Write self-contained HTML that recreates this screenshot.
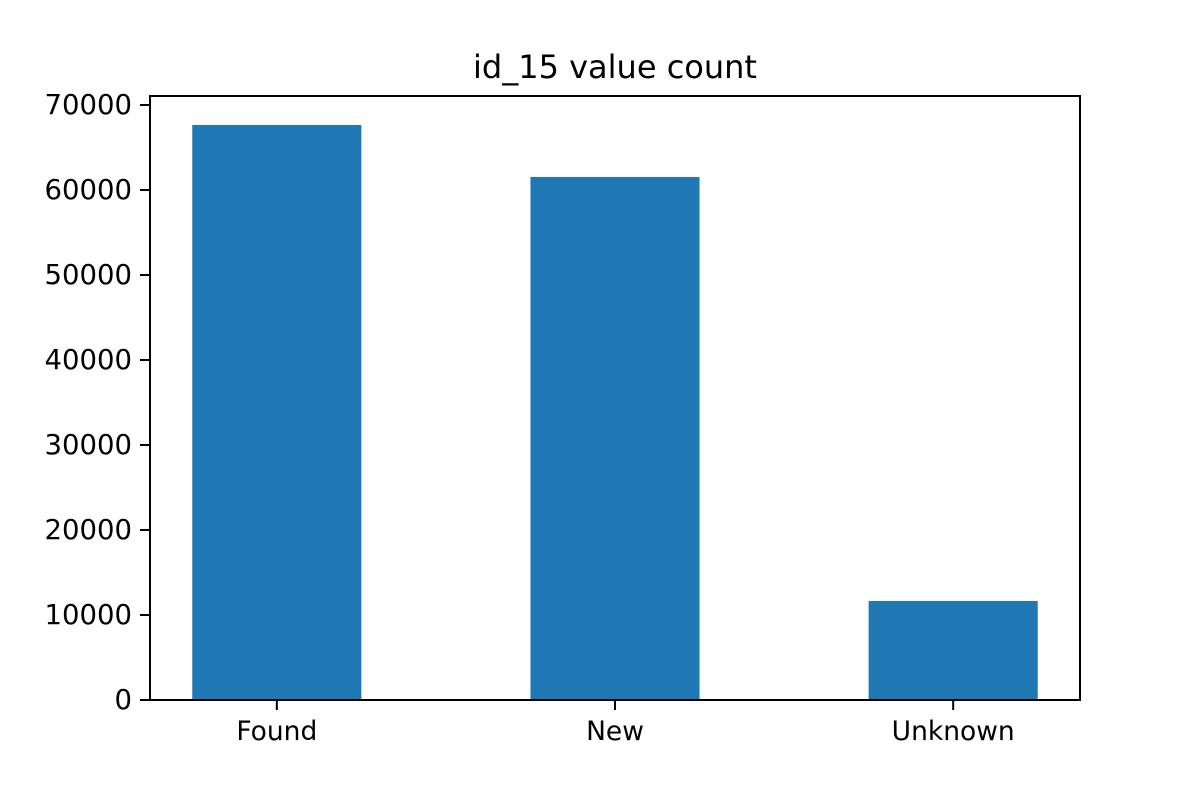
<!DOCTYPE html>
<html><head><meta charset="utf-8"><style>
html,body{margin:0;padding:0;background:#fff;}
svg text{font-family:"DejaVu Sans","Liberation Sans",sans-serif;fill:#000;}
</style></head><body>
<svg width="1200" height="800" xmlns="http://www.w3.org/2000/svg">
<rect width="1200" height="800" fill="#fff"/>
<text x="615" y="78" font-size="32" text-anchor="middle">id_15 value count</text>
<g id="bars"></g>
<g id="yticks"></g>
<g id="xticks"></g>
<rect x="150" y="96" width="930" height="604" fill="none" stroke="#000" stroke-width="2"/>
</svg>
<script>
const categories = ["Found", "New", "Unknown"];
const counts = [67650, 61530, 11650];
const yTicks = [0, 10000, 20000, 30000, 40000, 50000, 60000, 70000];
const L=150,R=1080,T=96,B=700,xmin=-0.375,xmax=2.375,ymax=71060;
const NS="http://www.w3.org/2000/svg";
const sx=v=>L+(v-xmin)/(xmax-xmin)*(R-L);
const sy=v=>B-v/ymax*(B-T);
const mk=(t,a,p)=>{const e=document.createElementNS(NS,t);for(const k in a)e.setAttribute(k,a[k]);p.appendChild(e);return e;};
const bars=document.getElementById('bars'),yt=document.getElementById('yticks'),xt=document.getElementById('xticks');
counts.forEach((c,i)=>{
  const r=mk('rect',{x:sx(i-0.25),y:sy(c),width:sx(i+0.25)-sx(i-0.25),height:B-sy(c),fill:'#1f77b4'},bars);
  
  
  const tk=mk('line',{x1:sx(i),x2:sx(i),y1:B,y2:B+10,stroke:'#000','stroke-width':2},xt);
  
  
  const tx=mk('text',{x:sx(i),y:B+40,'font-size':26.5,'text-anchor':'middle'},xt);
  tx.textContent=categories[i];
  
  
});
yTicks.forEach(v=>{
  const tk=mk('line',{x1:L-10,x2:L,y1:sy(v),y2:sy(v),stroke:'#000','stroke-width':2},yt);
  
  
  const tx=mk('text',{x:L-18,y:sy(v)+9,'font-size':27.5,'text-anchor':'end'},yt);
  tx.textContent=String(v);
  
  
});
</script>
</body></html>
